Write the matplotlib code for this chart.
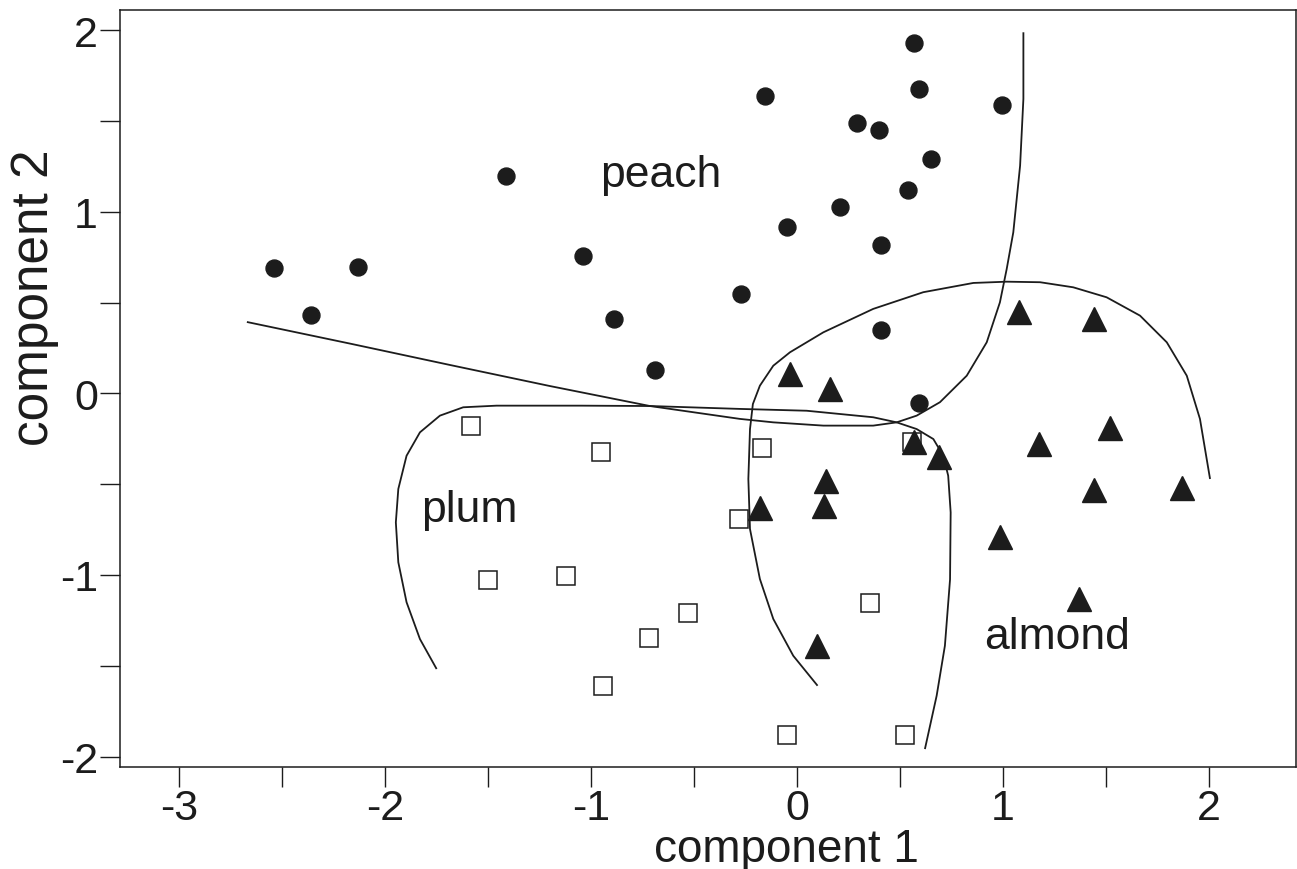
import numpy as np
import matplotlib
matplotlib.use("Agg")
import matplotlib.pyplot as plt

plt.rcParams['font.family'] = ['Liberation Sans', 'DejaVu Sans']
plt.rcParams['axes.unicode_minus'] = False

# score values (component 1, component 2)
peach_x = [-2.54, -2.36, -2.13, -1.41, -1.04, -0.89, -0.69, -0.27, -0.155, -0.05,
           0.21, 0.29, 0.40, 0.41, 0.41, 0.54, 0.57, 0.59, 0.65, 0.995, 0.59]
peach_y = [0.69, 0.435, 0.695, 1.20, 0.76, 0.41, 0.13, 0.55, 1.64, 0.915,
           1.03, 1.49, 1.45, 0.82, 0.35, 1.12, 1.93, 1.68, 1.29, 1.59, -0.055]

plum_x = [-1.58, -0.95, -1.50, -1.12, -0.53, -0.72, -0.94, -0.17, -0.28, 0.354, -0.05, 0.524, 0.557]
plum_y = [-0.18, -0.32, -1.03, -1.005, -1.21, -1.345, -1.61, -0.30, -0.69, -1.156, -1.88, -1.88, -0.27]

almond_x = [1.08, 1.44, -0.035, 0.16, 0.57, 0.69, 1.175, 1.52, 1.44, 1.87, 0.985, 1.37,
            0.14, 0.13, -0.18, 0.095]
almond_y = [0.45, 0.41, 0.108, 0.024, -0.27, -0.35, -0.28, -0.19, -0.53, -0.52, -0.79, -1.13,
            -0.48, -0.62, -0.63, -1.39]

# hand drawn group boundaries
peach_line_x = [-2.670, -2.170, -1.684, -1.199, -0.714, -0.277, -0.115, 0.128, 0.370, 0.484,
                0.581, 0.694, 0.824, 0.921, 0.985, 1.018, 1.050, 1.083, 1.099, 1.099]
peach_line_y = [0.394, 0.275, 0.157, 0.041, -0.069, -0.140, -0.159, -0.177, -0.177, -0.159,
                -0.122, -0.048, 0.098, 0.282, 0.502, 0.686, 0.888, 1.255, 1.623, 1.990]

plum_line_x = [-1.749, -1.830, -1.895, -1.935, -1.947, -1.935, -1.895, -1.830, -1.733, -1.620,
               -1.458, -1.053, -0.714, -0.277, 0.047, 0.370, 0.484, 0.581, 0.662, 0.710,
               0.734, 0.746, 0.743, 0.718, 0.678, 0.621]
plum_line_y = [-1.518, -1.353, -1.150, -0.930, -0.710, -0.526, -0.343, -0.214, -0.122, -0.076,
               -0.067, -0.067, -0.069, -0.085, -0.095, -0.131, -0.159, -0.196, -0.251, -0.343,
               -0.453, -0.655, -1.024, -1.390, -1.665, -1.959]

almond_line_x = [0.100, -0.018, -0.115, -0.180, -0.228, -0.236, -0.228, -0.214, -0.180, -0.115,
                 -0.034, 0.128, 0.370, 0.613, 0.856, 1.018, 1.180, 1.341, 1.503, 1.665,
                 1.795, 1.892, 1.956, 2.005]
almond_line_y = [-1.610, -1.445, -1.242, -1.022, -0.747, -0.471, -0.196, -0.058, 0.043, 0.153,
                 0.227, 0.337, 0.466, 0.558, 0.609, 0.616, 0.613, 0.585, 0.530, 0.429,
                 0.282, 0.098, -0.140, -0.471]

ink = '#1c1c1c'

fig = plt.figure(figsize=(12.97, 8.70), dpi=100)
ax = fig.add_axes([0.0925, 0.1172, 0.9067, 0.8702])

for lx, ly in [(peach_line_x, peach_line_y), (plum_line_x, plum_line_y),
               (almond_line_x, almond_line_y)]:
    ax.plot(lx, ly, color=ink, lw=1.3, solid_joinstyle='round', solid_capstyle='butt', zorder=2)

ax.plot(peach_x, peach_y, 'o', ms=12.2, color=ink, mec=ink, zorder=3)
ax.plot(plum_x, plum_y, 's', ms=12.5, mfc='white', mec=ink, mew=1.1, zorder=3)
ax.plot(almond_x, almond_y, '^', ms=17, color=ink, mec=ink, zorder=4)

ax.text(-0.661, 1.145, 'peach', fontsize=32, ha='center', va='baseline', color=ink)
ax.text(-1.592, -0.702, 'plum', fontsize=32, ha='center', va='baseline', color=ink)
ax.text(1.261, -1.404, 'almond', fontsize=32, ha='center', va='baseline', color=ink)

ax.set_xlim(-3.286, 2.422)
ax.set_ylim(-2.058, 2.113)

ax.set_xticks([-3, -2, -1, 0, 1, 2])
ax.set_xticklabels(['-3', '-2', '-1', '0', '1', '2'])
ax.set_xticks(np.arange(-2.5, 2.0, 1.0), minor=True)
ax.set_yticks([-2, -1, 0, 1, 2])
ax.set_yticklabels(['-2', '-1', '0', '1', '2'])
ax.set_yticks([-1.5, -0.5, 0.5, 1.5], minor=True)

ax.tick_params(which='both', direction='out', length=14.4, width=1.0, color=ink)
ax.tick_params(axis='x', which='major', labelsize=31, pad=1, labelcolor=ink)
ax.tick_params(axis='y', which='major', labelsize=31, pad=1.5, labelcolor=ink)

for s in ax.spines.values():
    s.set_linewidth(1.1)
    s.set_color(ink)

ax.set_xlabel('component 1', fontsize=33, color=ink, va='baseline')
ax.xaxis.set_label_coords(0.5667, -0.1242)
ax.set_ylabel('component 2', fontsize=37, color=ink, va='center')
ax.yaxis.set_label_coords(-0.0731, 0.6215)

fig.savefig('out.png', dpi=100, facecolor='white')
